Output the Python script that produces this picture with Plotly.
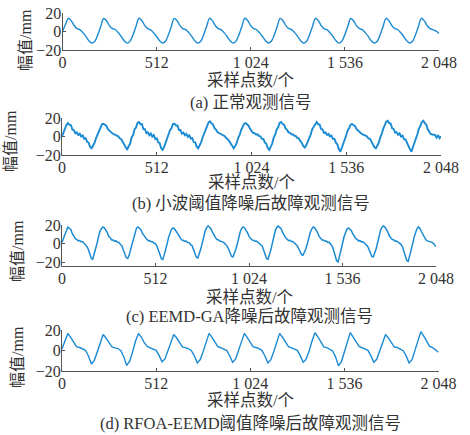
import plotly.graph_objects as go

# ---------------- data ----------------
X_TICK_VALUES = [0, 512, 1024, 1536, 2048]
X_TICK_LABELS = ["0", "512", "1 024", "1 536", "2 048"]
Y_TICK_VALUES = [-20, 0, 20]

# sample positions (sample index) of the read-off points
x_a = list(range(0, 2049, 16))
x_b = list(range(0, 2049, 8))
x_c = list(range(0, 2049, 8))
x_d = list(range(0, 2049, 16))

# (a) normal observed signal, amplitude in mm
y_a = [0, 7.5,
       14.2, 11.5, 6.2, 3.0, 1.8, -1.5, -5.5, -10.0, -12.5, -10.5, -3.5, 5.5,
       14.0, 11.3, 6.0, 3.1, 1.9, -1.4, -5.6, -10.1, -12.6, -10.4, -3.4, 5.6,
       14.3, 11.6, 6.3, 3.0, 1.7, -1.6, -5.4, -9.9, -12.4, -10.6, -3.6, 5.4,
       14.1, 11.4, 6.1, 2.9, 1.8, -1.5, -5.5, -10.0, -12.5, -10.5, -3.5, 5.5,
       14.2, 11.5, 6.2, 3.0, 1.8, -1.5, -5.6, -10.1, -12.6, -10.4, -3.4, 5.6,
       14.3, 11.6, 6.3, 3.1, 1.9, -1.4, -5.4, -9.9, -12.4, -10.6, -3.6, 5.4,
       14.1, 11.4, 6.1, 3.0, 1.8, -1.5, -5.5, -10.0, -12.5, -10.5, -3.5, 5.5,
       14.2, 11.5, 6.2, 2.9, 1.7, -1.6, -5.6, -10.1, -12.6, -10.4, -3.4, 5.6,
       14.0, 11.3, 6.0, 3.0, 1.8, -1.5, -5.5, -10.0, -12.5, -10.5, -3.5, 5.5,
       14.2, 11.5, 6.2, 3.1, 1.9, -1.4, -5.4, -9.9, -12.4, -10.6, -3.6, 5.4,
       14.2, 11.5, 6.2, 3.0, 1.8, 0.3, -2.0]

# (b) fault signal after wavelet-threshold denoising
y_b = [0, 4.5, 9.0, 12.5,
       14.5, 12.6, 12.4, 7.6, 7.0, 3.4, 4.5, 1.6, 3.0, 0.0, 1.2, -2.4, -1.8, -5.8, -6.6, -11.4, -12.7, -10.0, -6.8, -1.8, 2.0, 6.8, 9.6, 13.2,
       13.8, 12.4, 11.4, 8.0, 6.2, 4.2, 3.4, 2.2, 2.0, 0.8, 0.2, -2.0, -3.0, -5.6, -8.2, -12.3, -14.5, -10.6, -8.0, -1.0, 1.4, 7.8, 9.6, 14.6,
       15.6, 13.2, 13.4, 7.9, 7.8, 3.6, 4.6, 1.4, 3.2, -0.2, 1.5, -2.7, -2.0, -6.4, -7.2, -12.7, -14.5, -11.2, -6.8, -2.2, 1.2, 7.0, 8.8, 13.6,
       13.8, 11.9, 11.9, 7.0, 7.0, 3.2, 4.2, 1.3, 2.9, -0.3, 1.3, -2.2, -1.7, -6.2, -6.4, -11.0, -12.7, -9.6, -6.0, -1.1, 2.6, 8.2, 10.9, 15.2,
       16.4, 14.0, 13.1, 9.0, 7.5, 4.8, 3.8, 3.0, 2.1, 1.2, 0.3, -2.0, -2.9, -5.2, -7.6, -11.2, -12.7, -10.4, -7.0, -1.5, 1.8, 7.0, 9.6, 13.7,
       14.5, 12.9, 11.7, 8.3, 6.5, 4.0, 3.7, 2.1, 2.3, 0.6, 0.2, -2.4, -2.5, -6.3, -7.8, -12.5, -14.5, -10.9, -7.6, -1.3, 2.0, 7.7, 10.0, 14.6,
       15.6, 13.5, 12.8, 8.7, 7.2, 4.5, 4.0, 2.3, 2.2, 0.8, 0.5, -1.8, -2.1, -5.0, -7.0, -10.5, -12.0, -9.5, -5.8, -1.0, 2.3, 7.8, 10.5, 14.4,
       15.6, 13.1, 13.1, 8.2, 7.6, 3.8, 4.4, 1.7, 2.8, 0.1, 1.0, -2.6, -2.7, -6.7, -8.6, -13.6, -16.4, -12.2, -8.0, -2.0, 1.4, 6.9, 9.2, 13.0,
       13.5, 12.2, 11.1, 7.8, 6.3, 4.1, 3.5, 2.3, 2.0, 0.9, 0.1, -2.1, -2.6, -5.6, -7.0, -11.5, -12.7, -9.8, -6.8, -0.8, 2.8, 8.4, 12.0, 16.0,
       17.0, 14.5, 14.0, 8.8, 8.2, 4.2, 4.8, 1.8, 3.3, -0.1, 0.9, -2.9, -3.2, -7.1, -9.0, -13.7, -16.4, -12.0, -7.8, -1.6, 2.2, 8.3, 11.0, 15.4,
       17.0, 14.7, 12.9, 8.0, 5.3, 2.8, 2.1, 1.9, 1.7, -1.2, 1.4, -1.8, 0.3]

# (c) fault signal after EEMD-GA denoising
y_c = [1.5, 6.0, 11.0, 15.5,
       17.9, 16.4, 15.2, 11.0, 8.4, 5.6, 4.7, 3.1, 3.4, 2.1, 2.2, 0.6, -0.2, -2.9, -6.1, -11.4, -15.8, -16.8, -11.6, -6.9, 0.4, 7.2, 13.4, 16.0,
       17.9, 17.0, 14.4, 11.9, 7.6, 6.4, 3.9, 3.8, 2.6, 2.9, 1.4, 1.3, -0.9, -2.2, -6.8, -10.6, -15.2, -16.0, -12.3, -6.1, -0.4, 7.8, 12.7, 16.6,
       17.9, 16.6, 15.0, 11.2, 8.5, 5.7, 4.6, 3.2, 3.3, 2.0, 2.1, 0.5, -0.3, -2.8, -6.4, -11.5, -16.2, -17.0, -11.8, -6.6, 0.2, 7.0, 12.4, 15.6,
       16.8, 15.9, 13.6, 11.1, 7.2, 6.1, 3.8, 3.6, 2.4, 2.7, 1.2, 1.1, -1.0, -2.0, -6.2, -10.0, -14.6, -15.4, -11.2, -5.6, 0.6, 8.0, 13.8, 17.2,
       19.0, 17.6, 15.8, 12.4, 8.6, 6.8, 4.4, 4.1, 2.8, 2.6, 1.9, 0.8, -0.4, -2.6, -5.8, -9.8, -13.6, -14.3, -10.8, -6.0, -0.2, 7.4, 12.8, 16.4,
       17.9, 16.8, 14.6, 11.6, 7.8, 6.2, 4.0, 3.7, 2.5, 2.8, 1.5, 1.2, -0.8, -2.4, -6.9, -11.2, -15.9, -16.8, -12.0, -6.4, 0.5, 8.2, 14.0, 17.4,
       19.0, 17.4, 16.0, 12.0, 8.9, 6.5, 4.8, 3.4, 3.6, 2.2, 2.3, 0.7, -0.1, -2.2, -5.2, -8.9, -11.8, -12.5, -9.4, -5.3, 0.3, 6.9, 12.2, 15.9,
       17.9, 16.9, 14.5, 11.7, 7.7, 6.3, 3.9, 3.9, 2.5, 2.7, 1.3, 1.4, -1.1, -3.0, -7.6, -13.0, -18.4, -19.6, -13.8, -7.4, 0.1, 7.1, 12.6, 15.5,
       16.8, 15.7, 14.1, 10.6, 7.9, 5.5, 4.5, 3.0, 3.2, 1.9, 2.0, 0.4, -0.4, -2.5, -5.6, -9.6, -13.5, -14.3, -10.5, -5.9, 0.7, 8.1, 14.2, 17.6,
       19.0, 17.8, 15.6, 12.6, 8.4, 6.9, 4.3, 4.2, 2.7, 2.9, 1.6, 1.0, -0.7, -3.1, -7.3, -12.6, -18.0, -19.0, -13.6, -7.6, -0.3, 7.0, 12.9, 16.1,
       17.9, 16.2, 13.0, 9.5, 6.0, 4.4, 2.9, 2.6, 2.0, 1.6, 0.6, -0.8, -3.2]

# (d) fault signal after RFOA-EEMD threshold denoising
y_d = [1.7, 9.5,
       16.7, 12.6, 7.8, 3.6, 2.9, 1.6, 0.2, -5.4, -13.2, -9.6, -1.2, 8.6,
       15.6, 12.0, 7.2, 3.4, 2.5, 1.9, -0.3, -6.0, -14.6, -10.4, -1.5, 9.2,
       16.7, 12.9, 7.4, 3.9, 2.6, 1.5, 0.1, -4.8, -11.0, -8.2, -0.6, 8.4,
       15.6, 12.2, 7.0, 3.3, 2.8, 1.7, -0.2, -5.2, -12.2, -8.8, -0.9, 9.0,
       16.7, 12.8, 7.6, 3.7, 2.7, 1.4, 0.0, -5.1, -11.5, -8.5, -0.8, 8.8,
       16.7, 12.5, 7.3, 3.5, 2.9, 1.8, -0.1, -5.3, -12.2, -8.9, -1.0, 9.1,
       16.7, 12.7, 7.5, 3.8, 2.6, 1.6, 0.2, -5.0, -11.5, -8.4, -0.7, 9.3,
       17.4, 13.2, 7.9, 3.6, 2.8, 1.5, -0.4, -6.2, -15.0, -10.8, -1.6, 9.0,
       17.4, 13.0, 7.7, 3.9, 2.7, 1.7, 0.1, -5.0, -11.5, -8.6, -0.9, 8.2,
       15.6, 12.1, 7.1, 3.4, 2.9, 1.5, -0.2, -5.3, -12.2, -9.0, -0.5, 10.0,
       18.4, 14.0, 8.2, 4.0, 2.8, 0.8, -1.7]

X_LABEL = "采样点数/个"
Y_LABEL = "幅值/mm"
CAPTIONS = ["(a) 正常观测信号",
            "(b) 小波阈值降噪后故障观测信号",
            "(c) EEMD-GA降噪后故障观测信号",
            "(d) RFOA-EEMD阈值降噪后故障观测信号"]

# ---------------- styling / layout ----------------
W, H = 470, 435
FONT = "Liberation Serif, Noto Sans CJK SC, serif"
TXT = "#333333"
AX = "#555555"
BLUE = "#1a8ad2"

# per panel: x pixel span, y pixel span (top, bottom), y range, ylabel pos, xlabel y, caption y
panels = [
    dict(x=x_a, y=y_a, shape="spline", lw=1.4, px=(62.5, 439), py=(12.5, 50), yr=[-20, 20.5],
         ylab=(25, 40), xlab_y=80, cap_y=103),
    dict(x=x_b, y=y_b, shape="linear", lw=1.9, px=(62, 441), py=(118, 155), yr=[-20, 20],
         ylab=(10, 141), xlab_y=183, cap_y=203),
    dict(x=x_c, y=y_c, shape="linear", lw=1.5, px=(62, 436), py=(225, 266), yr=[-24, 20],
         ylab=(17, 251), xlab_y=297, cap_y=316),
    dict(x=x_d, y=y_d, shape="linear", lw=1.4, px=(62, 438.5), py=(330, 371), yr=[-20, 20],
         ylab=(17, 357), xlab_y=400, cap_y=423),
]

fig = go.Figure()
annotations = []
layout = {}
for i, p in enumerate(panels):
    n = "" if i == 0 else str(i + 1)
    fig.add_trace(go.Scatter(x=p["x"], y=p["y"], mode="lines",
                             line=dict(color=BLUE, width=p["lw"], shape=p["shape"]),
                             xaxis="x" + n, yaxis="y" + n, showlegend=False,
                             hoverinfo="skip"))
    common = dict(showgrid=False, zeroline=False, showline=True, linecolor=AX,
                  linewidth=1, ticks="inside", ticklen=3, tickwidth=1, tickcolor=AX,
                  automargin=False,
                  tickfont=dict(family=FONT, size=16, color=TXT), fixedrange=True)
    layout["xaxis" + n] = dict(common, domain=[p["px"][0] / W, p["px"][1] / W],
                               range=[0, 2048], tickvals=X_TICK_VALUES,
                               ticktext=X_TICK_LABELS, anchor="y" + n,
                               ticklabelstandoff=-2)
    layout["yaxis" + n] = dict(common, domain=[1 - p["py"][1] / H, 1 - p["py"][0] / H],
                               range=p["yr"], tickvals=Y_TICK_VALUES, anchor="x" + n,
                               ticklabelstandoff=-3)
    cx = (p["px"][0] + p["px"][1]) / 2 / W
    annotations.append(dict(text=X_LABEL, x=cx, y=1 - p["xlab_y"] / H, xref="paper",
                            yref="paper", showarrow=False, xanchor="center",
                            yanchor="middle", font=dict(family=FONT, size=16.5, color=TXT)))
    annotations.append(dict(text=CAPTIONS[i], x=cx, y=1 - p["cap_y"] / H, xref="paper",
                            yref="paper", showarrow=False, xanchor="center",
                            yanchor="middle", font=dict(family=FONT, size=16.5, color=TXT)))
    annotations.append(dict(text=Y_LABEL, x=p["ylab"][0] / W, y=1 - p["ylab"][1] / H,
                            xref="paper", yref="paper", showarrow=False, textangle=-90,
                            xanchor="center", yanchor="middle",
                            font=dict(family=FONT, size=16, color=TXT)))

fig.update_layout(width=W, height=H, autosize=False, template="none",
                  margin=dict(l=0, r=0, t=0, b=0, pad=0),
                  paper_bgcolor="white", plot_bgcolor="white",
                  annotations=annotations, **layout)

fig.write_html("out.html", config={"displayModeBar": False, "staticPlot": True},
               post_script="document.body.style.margin='0';")
